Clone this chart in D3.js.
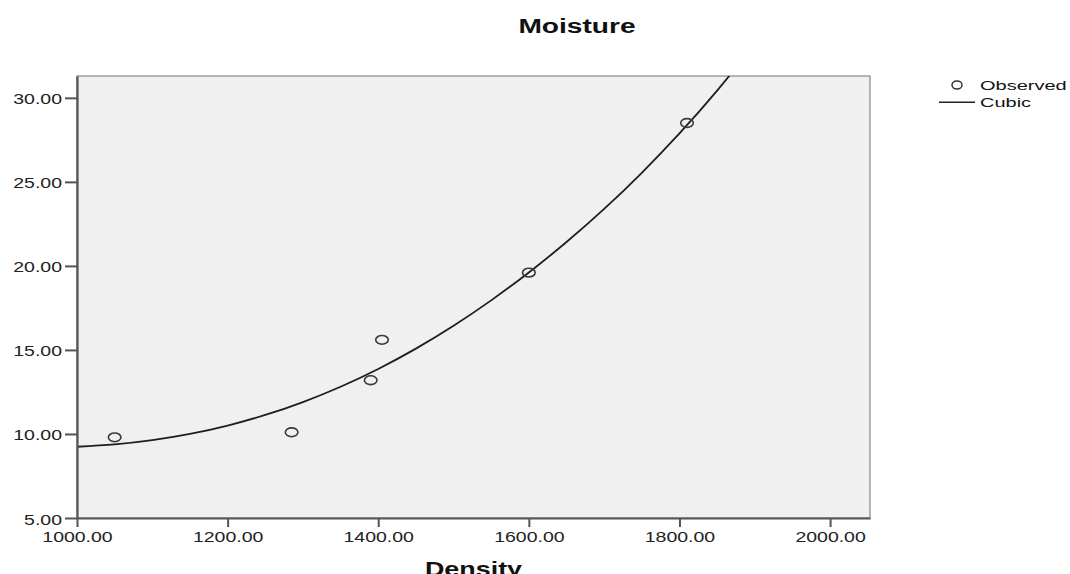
<!DOCTYPE html>
<html><head><meta charset="utf-8">
<script src="https://cdn.jsdelivr.net/npm/d3@7"></script>
<style>
body{margin:0;background:#fff;}
svg{display:block;font-family:"Liberation Sans",Arial,sans-serif;}
</style></head>
<body><svg id="c" width="1070" height="574"></svg>
<script>
// Observed data
const density = [1050, 1285, 1390, 1405, 1600, 1810];
const moisture = [9.8, 10.1, 13.2, 15.6, 19.6, 28.5];
// Cubic fit line
const cubicX = [1000, 1050, 1100, 1150, 1200, 1250, 1300, 1350, 1400, 1450, 1500, 1550, 1600, 1650, 1700, 1750, 1800, 1850, 1900];
const cubicY = [9.24, 9.38, 9.63, 10.0, 10.5, 11.13, 11.9, 12.81, 13.87, 15.08, 16.44, 17.95, 19.61, 21.42, 23.39, 25.54, 27.88, 30.43, 33.2];
const xTicks = [1000, 1200, 1400, 1600, 1800, 2000];
const yTicks = [5, 10, 15, 20, 25, 30];
const title = "Moisture", xLabel = "Density";
const legendLabels = ["Observed", "Cubic"];

const SX = 1.3; // horizontal text stretch
const svg = d3.select("#c");
const L = 77, R = 870, T = 76, B = 518;
const x = d3.scaleLinear().domain([1000, 2053]).range([L, R]);
const y = d3.scaleLinear().domain([5, 31.3]).range([B, T]);

svg.append("rect").attr("x", L).attr("y", T).attr("width", R - L).attr("height", B - T)
  .attr("fill", "#f0f0f0").attr("stroke", "#888").attr("stroke-width", 1.2);

svg.append("clipPath").attr("id", "clip").append("rect")
  .attr("x", L).attr("y", T).attr("width", R - L).attr("height", B - T);

// cubic curve
const line = d3.line().x((d, i) => x(cubicX[i])).y(d => y(d)).curve(d3.curveNatural);
svg.append("path").datum(cubicY).attr("d", line).attr("clip-path", "url(#clip)")
  .attr("fill", "none").attr("stroke", "#1e1e1e").attr("stroke-width", 1.8);

// observed points
svg.append("g").selectAll("ellipse").data(density).join("ellipse")
  .attr("cx", d => x(d)).attr("cy", (d, i) => y(moisture[i]))
  .attr("rx", 6.3).attr("ry", 4.4).attr("fill", "none")
  .attr("stroke", "#3a3a3a").attr("stroke-width", 1.6);

// axes
const fmt = d3.format(".2f");
const gy = svg.append("g").attr("transform", `translate(${L},0)`)
  .call(d3.axisLeft(y).tickValues(yTicks).tickFormat(fmt).tickSize(12).tickSizeOuter(0));
gy.select(".domain").attr("stroke", "#555").attr("stroke-width", 2.2);
gy.selectAll(".tick line").attr("stroke", "#555").attr("stroke-width", 2);
gy.selectAll(".tick text").attr("x", -15 / SX).attr("dy", null).attr("y", 6)
  .attr("transform", `scale(${SX},1)`).attr("font-size", 15).attr("fill", "#222")
  .attr("font-family", "Liberation Sans, Arial, sans-serif");

const gx = svg.append("g").attr("transform", `translate(0,${B})`)
  .call(d3.axisBottom(x).tickValues(xTicks).tickFormat(fmt).tickSize(9).tickSizeOuter(0));
gx.select(".domain").attr("stroke", "#555").attr("stroke-width", 2);
gx.selectAll(".tick line").attr("stroke", "#555").attr("stroke-width", 2);
gx.selectAll(".tick text").attr("dy", null).attr("y", 24)
  .attr("transform", `scale(${SX},1)`).attr("font-size", 15).attr("fill", "#222")
  .attr("font-family", "Liberation Sans, Arial, sans-serif");

// stretched text helper
function stext(tx, ty, str, size, weight, anchor, sx) {
  svg.append("g").attr("transform", `translate(${tx},${ty}) scale(${sx},1)`)
    .append("text").attr("text-anchor", anchor).attr("font-size", size)
    .attr("font-weight", weight).attr("fill", "#111").text(str);
}
stext(577, 32.5, title, 21, "bold", "middle", 1.34);
stext((L + R) / 2, 576, xLabel, 21, "bold", "middle", 1.28);

// legend
svg.append("ellipse").attr("cx", 957).attr("cy", 85).attr("rx", 5).attr("ry", 4)
  .attr("fill", "none").attr("stroke", "#333").attr("stroke-width", 1.5);
svg.append("line").attr("x1", 939).attr("x2", 975).attr("y1", 102.3).attr("y2", 102.3)
  .attr("stroke", "#222").attr("stroke-width", 1.6);
stext(980, 90, legendLabels[0], 13.5, "normal", "start", 1.48);
stext(980, 107, legendLabels[1], 13.5, "normal", "start", 1.48);
</script></body></html>
